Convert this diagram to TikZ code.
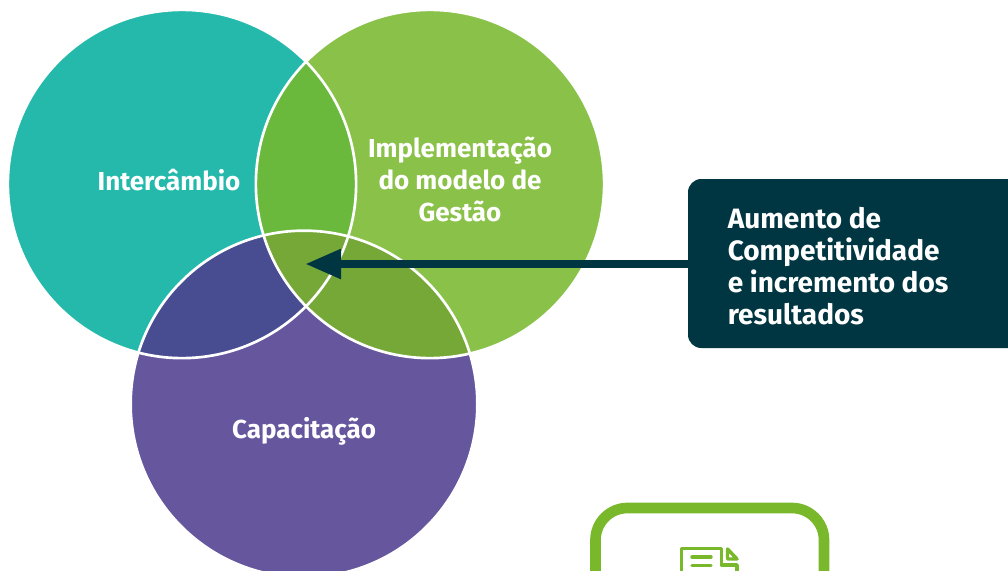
\documentclass[tikz,border=0pt]{standalone}
\usepackage{fontspec}
\setmainfont{Fira Sans}[BoldFont={Fira Sans Bold}]
\usetikzlibrary{arrows.meta}
\definecolor{tealc}{HTML}{25B9AB}
\definecolor{greenc}{HTML}{8AC249}
\definecolor{purplec}{HTML}{65569E}
\definecolor{tg}{HTML}{6AB93C}
\definecolor{tp}{HTML}{484C91}
\definecolor{gp}{HTML}{76A838}
\definecolor{navy}{HTML}{003641}
\definecolor{frame}{HTML}{78B82A}
\tikzset{
  x=0.75pt,y=-0.75pt,
  outline/.style={draw=white,line width=2pt},
  lbl/.style={text=white,font=\fontsize{19.5}{24}\selectfont\bfseries,align=center,inner sep=0pt},
  boxlbl/.style={text=white,font=\fontsize{21}{24}\selectfont\bfseries,align=left,inner sep=0pt,anchor=north west},
  icon/.style={draw=frame,line width=2.6pt,line join=round,line cap=round}
}
\begin{document}
\begin{tikzpicture}
\useasboundingbox (0,0) rectangle (1008,571);
\begin{scope}
\clip (0,0) rectangle (1008,571);
\def\ta{(182,184) circle[radius=130.6pt]}
\def\gr{(430,184) circle[radius=130.6pt]}
\def\pu{(304,404) circle[radius=130pt]}
\fill[tealc] \ta;
\fill[greenc] \gr;
\fill[purplec] \pu;
\begin{scope}\clip \ta; \fill[tg] \gr; \fill[tp] \pu; \end{scope}
\begin{scope}\clip \gr; \fill[gp] \pu; \end{scope}
\draw[outline] \ta;
\draw[outline] \gr;
\draw[outline] \pu;
\draw[frame,line width=8pt,rounded corners=24pt] (595.5,600) -- (595.5,508) -- (824,508) -- (824,600);
\draw[icon] (681.5,580) -- (681.5,548.5) -- (721.5,548.5) -- (721.5,565) -- (737,565) -- (737,580);
\draw[icon] (727.5,549) -- (737,559) -- (727.5,559) -- cycle;
\draw[icon] (692,557) -- (711,557);
\draw[icon] (692,565.5) -- (711,565.5);
\end{scope}
\node[lbl] (inter) at (169,180) {Intercâmbio};
\node[lbl] (impl) at (460,179.5) {Implementação\\do modelo de\\Gestão};
\node[lbl] (cap) at (304,431.5) {Capacitação};
\fill[navy,rounded corners=10pt] (688,179) rectangle (1022,348);
\node[draw=none,minimum size=0pt,inner sep=0pt] (box) at (688,264) {};
\node[boxlbl] (txt) at (727.5,207) {Aumento de\\Competitividade\\e incremento dos\\resultados};
\coordinate (tip) at (305,264);
\draw[navy,line width=6.2pt,-{Triangle[length=27pt,width=21pt]}] (box) -- (tip);
\end{tikzpicture}
\end{document}
